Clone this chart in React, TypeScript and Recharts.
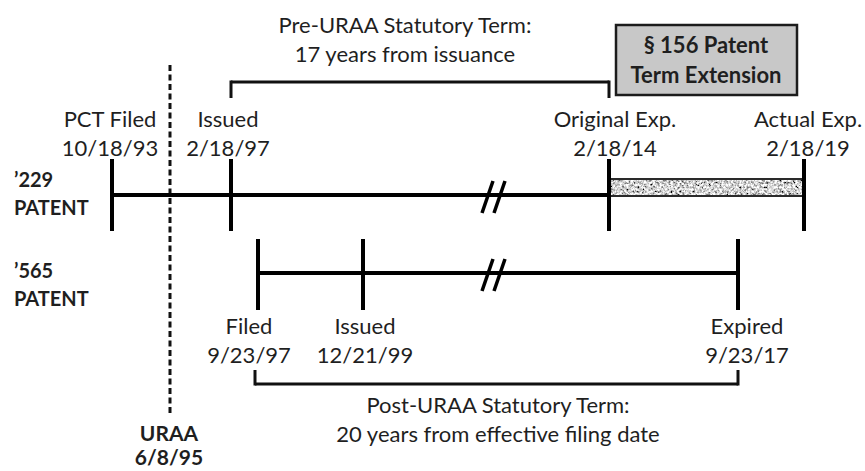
import React from 'react';
import { ComposedChart, XAxis, YAxis, ReferenceLine, ReferenceArea, Scatter } from 'recharts';

// ---- data (schematic timeline positions) ----
const patent229Events = ['PCT Filed', 'Issued', 'Original Exp.', 'Actual Exp.'];
const patent229Dates = ['10/18/93', '2/18/97', '2/18/14', '2/18/19'];
const patent229Pos = [112, 231, 609, 804];

const patent565Events = ['Filed', 'Issued', 'Expired'];
const patent565Dates = ['9/23/97', '12/21/99', '9/23/17'];
const patent565Pos = [258, 363, 738];

const uraaLabel = 'URAA';
const uraaDate = '6/8/95';
const uraaPos = 170;

const breakPos = 494;
const rowNames = [['\u2019229', 'PATENT'], ['\u2019565', 'PATENT']];
const preCaption = ['Pre-URAA Statutory Term:', '17 years from issuance'];
const postCaption = ['Post-URAA Statutory Term:', '20 years from effective filing date'];
const extensionCaption = ['\u00a7 156 Patent', 'Term Extension'];

// ---- layout ----
const W = 865;
const H = 471;
const ROW = [195, 273];
const TICK_UP = 36;
const TICK_DOWN = 37;
const FONT = 'Lato, "Open Sans", sans-serif';
const INK = '#1f1f1f';
const shift229 = [-2, -3, 6, 4];
const shift565 = [-9, 2, 9];

type TextItem = { x: number; y: number; text: string; bold?: boolean; anchor?: string; size?: number };

const texts: TextItem[] = [];
patent229Events.forEach((e, i) => {
  texts.push({ x: patent229Pos[i] + shift229[i], y: 127, text: e });
  texts.push({ x: patent229Pos[i] + shift229[i], y: 156, text: patent229Dates[i] });
});
patent565Events.forEach((e, i) => {
  texts.push({ x: patent565Pos[i] + shift565[i], y: 334, text: e });
  texts.push({ x: patent565Pos[i] + shift565[i], y: 363, text: patent565Dates[i] });
});
rowNames.forEach((r, i) => {
  const base = i === 0 ? 187 : 278;
  texts.push({ x: 14, y: base, text: r[0], bold: true, anchor: 'start', size: 20 });
  texts.push({ x: 14, y: base + 28, text: r[1], bold: true, anchor: 'start', size: 20 });
});
texts.push({ x: (patent229Pos[1] + patent229Pos[2]) / 2 - 15, y: 33, text: preCaption[0] });
texts.push({ x: (patent229Pos[1] + patent229Pos[2]) / 2 - 15, y: 62, text: preCaption[1] });
texts.push({ x: (patent565Pos[0] + patent565Pos[2]) / 2, y: 413, text: postCaption[0] });
texts.push({ x: (patent565Pos[0] + patent565Pos[2]) / 2, y: 442, text: postCaption[1] });
texts.push({ x: uraaPos - 1, y: 441, text: uraaLabel, bold: true, size: 21 });
texts.push({ x: uraaPos - 1, y: 465, text: uraaDate, bold: true, size: 21 });
texts.push({ x: 706, y: 53, text: extensionCaption[0], bold: true, size: 22 });
texts.push({ x: 706, y: 83, text: extensionCaption[1], bold: true, size: 22 });

const TextShape = (p: any) => {
  const d: TextItem = p.payload;
  return (
    <text
      x={p.cx}
      y={p.cy}
      textAnchor={d.anchor || 'middle'}
      fontFamily={FONT}
      fontSize={d.size || 22}
      fontWeight={d.bold ? 700 : 400}
      fill={INK}
    >
      {d.text}
    </text>
  );
};

const GraniteBar = (p: any) => {
  const { x, y, width, height } = p;
  return (
    <g>
      <defs>
        <filter id="granite" x="0" y="0" width="100%" height="100%">
          <feTurbulence type="fractalNoise" baseFrequency="0.45" numOctaves="3" seed="7" result="n" />
          <feColorMatrix
            in="n"
            type="matrix"
            values="2.2 0 0 0 -0.45  2.2 0 0 0 -0.45  2.2 0 0 0 -0.45  0 0 0 0 1"
            result="g"
          />
          <feComposite in="g" in2="SourceGraphic" operator="in" />
        </filter>
      </defs>
      <rect x={x} y={y} width={width} height={height} fill="#aaa" filter="url(#granite)" />
      <rect x={x} y={y} width={width} height={height} fill="none" stroke="#2a2a2a" strokeWidth={2} />
    </g>
  );
};

const seg = (x1: number, y1: number, x2: number, y2: number) => [
  { x: x1, y: y1 },
  { x: x2, y: y2 },
];

export default function App() {
  const lineProps = { stroke: '#000', strokeWidth: 4, ifOverflow: 'visible' as const };
  const bracketProps = { stroke: '#111', strokeWidth: 3, ifOverflow: 'visible' as const };
  return (
    <div style={{ position: 'absolute', left: 0, top: 0, width: W, height: H, background: '#fff' }}>
      <ComposedChart width={W} height={H} margin={{ top: 0, right: 0, bottom: 0, left: 0 }} data={texts}>
        <XAxis type="number" dataKey="x" domain={[0, W]} allowDataOverflow hide />
        <YAxis type="number" dataKey="y" domain={[0, H]} allowDataOverflow reversed hide />

        {/* URAA dashed marker */}
        <ReferenceLine
          segment={seg(uraaPos, 65, uraaPos, 413)}
          stroke="#111"
          strokeWidth={3}
          strokeDasharray="6 3.5"
          ifOverflow="visible"
        />

        {/* brackets */}
        <ReferenceLine segment={seg(patent229Pos[1], 82, patent229Pos[2], 82)} {...bracketProps} />
        <ReferenceLine segment={seg(patent229Pos[1], 80.5, patent229Pos[1], 98)} {...bracketProps} />
        <ReferenceLine segment={seg(patent229Pos[2], 80.5, patent229Pos[2], 98)} {...bracketProps} />
        <ReferenceLine segment={seg(patent565Pos[0] - 3, 384, patent565Pos[2], 384)} {...bracketProps} />
        <ReferenceLine segment={seg(patent565Pos[0] - 3, 370, patent565Pos[0] - 3, 385.5)} {...bracketProps} />
        <ReferenceLine segment={seg(patent565Pos[2], 370, patent565Pos[2], 385.5)} {...bracketProps} />

        {/* extension box */}
        <ReferenceArea
          x1={616}
          x2={797}
          y1={25}
          y2={95}
          fill="#c8c8c8"
          fillOpacity={1}
          stroke="#1c1c1c"
          strokeWidth={2.5}
          ifOverflow="visible"
        />

        {/* main timelines */}
        <ReferenceLine segment={seg(patent229Pos[0], ROW[0], patent229Pos[2], ROW[0])} {...lineProps} />
        <ReferenceLine segment={seg(patent565Pos[0], ROW[1], patent565Pos[2], ROW[1])} {...lineProps} />

        {/* extension bar */}
        <ReferenceArea
          x1={patent229Pos[2]}
          x2={patent229Pos[3]}
          y1={179}
          y2={196}
          ifOverflow="visible"
          shape={GraniteBar}
        />

        {/* ticks */}
        {patent229Pos.map((p, i) => (
          <ReferenceLine key={'a' + i} segment={seg(p, ROW[0] - TICK_UP, p, ROW[0] + TICK_UP)} {...lineProps} />
        ))}
        {patent565Pos.map((p, i) => (
          <ReferenceLine key={'b' + i} segment={seg(p, ROW[1] - 34, p, ROW[1] + TICK_DOWN)} {...lineProps} />
        ))}

        {/* break marks */}
        {ROW.map((r, i) => (
          <ReferenceLine key={'s1' + i} segment={seg(breakPos - 12, r + 18, breakPos - 1, r - 14)} stroke="#000" strokeWidth={3.5} ifOverflow="visible" />
        ))}
        {ROW.map((r, i) => (
          <ReferenceLine key={'s2' + i} segment={seg(breakPos, r + 18, breakPos + 11, r - 14)} stroke="#000" strokeWidth={3.5} ifOverflow="visible" />
        ))}

        {/* text */}
        <Scatter data={texts} dataKey="y" shape={TextShape} isAnimationActive={false} />
      </ComposedChart>
    </div>
  );
}
